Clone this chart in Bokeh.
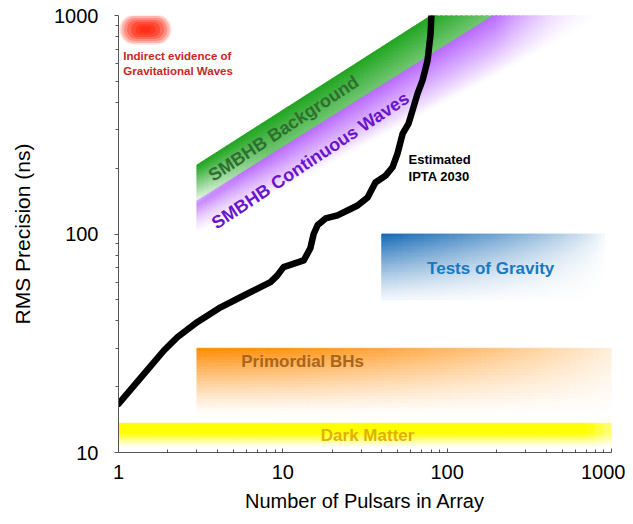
import numpy as np
from bokeh.plotting import figure
from bokeh.models import FixedTicker, Range1d, Label, PrintfTickFormatter
from bokeh.embed import file_html
from bokeh.resources import INLINE

# ---------------- data ----------------
# Estimated IPTA 2030 sensitivity curve
ipta_npsr = [1.0, 1.43, 1.89, 2.28, 3.01, 4.18, 5.79, 8.41, 9.24, 10.1, 13.4, 14.7,
             15.4, 16.3, 18.2, 21.5, 28.5, 32.8, 36.6, 42.2, 46.5, 49.9, 53.6, 58.2,
             61.5, 66.1, 70.8, 76.0, 79.3, 80.4]
ipta_rms = [16.7, 22.9, 29.3, 33.7, 39.5, 46.2, 52.3, 60.2, 64.5, 70.5, 75.7, 86.0,
            100, 110, 117.8, 121.6, 135, 147, 172, 185, 202, 234, 288, 320,
            367, 440, 505, 623, 828, 1055]

# science regions (N pulsars extent, RMS extent)
dm_npsr = [1, 1000]
dm_rms = [10.8, 13.6]
pbh_npsr = [3, 1000]
pbh_rms = [14.0, 30.0]
grav_npsr = [40, 1000]
grav_rms = [50.0, 100.0]
# SMBHB bands: power-law edges rms = r0 * (npsr / n0) ** slope
bkg_npsr = [3, 200]
bkg_top = [207.0, 0.48]      # (rms at n0, slope)
bkg_bot = [143.0, 0.47]
cw_npsr = [3, 1000]
cw_top = [143.0, 0.47]
cw_bot = [100.0, 0.40]
# indirect GW evidence marker
gw_npsr = [1.46]
gw_rms = [863]

x_ticks = [1, 10, 100, 1000]
y_ticks = [10, 100, 1000]

FONT = "Liberation Sans"

p = figure(width=625, height=516, x_axis_type="log", y_axis_type="log",
           x_range=Range1d(1, 1000), y_range=Range1d(10, 1000),
           output_backend="svg", toolbar_location=None,
           min_border_left=118, min_border_right=14, min_border_top=15,
           min_border_bottom=64)
p.outline_line_color = None
p.xgrid.visible = False
p.ygrid.visible = False
p.background_fill_color = "white"


def blend(hex_color, a):
    a = max(0.0, min(1.0, a))
    rgb = [int(hex_color[i:i + 2], 16) for i in (1, 3, 5)]
    return "#%02x%02x%02x" % tuple(int(round(255 - a * (255 - c))) for c in rgb)


def gradient_region(x0, x1, top_fn, bot_fn, color, alpha_fn, nx=70, ny=24):
    lx = np.linspace(np.log10(x0), np.log10(x1), nx + 1)
    xs_l, ys_l, cols = [], [], []

    def yat(x, t):
        return 10 ** ((1 - t) * np.log10(top_fn(x)) + t * np.log10(bot_fn(x)))

    for i in range(nx):
        xa, xb = 10 ** lx[i], 10 ** lx[i + 1]
        u = (i + 0.5) / nx
        for j in range(ny):
            t0, t1 = j / ny, (j + 1) / ny
            xs_l.append([xa, xb, xb, xa])
            ys_l.append([yat(xa, t0), yat(xb, t0), yat(xb, t1), yat(xa, t1)])
            cols.append(blend(color, alpha_fn(u, (j + 0.5) / ny)))
    p.patches(xs_l, ys_l, fill_color=cols, line_color=cols, line_width=0.9)


def const(v):
    return lambda x: v


def power(par, n0):
    return lambda x: par[0] * (x / n0) ** par[1]


# Dark matter (yellow)
gradient_region(dm_npsr[0], dm_npsr[1], const(dm_rms[1]), const(dm_rms[0]), "#ffff00",
                lambda u, t: (1.0 if t < 0.45 else 1 - 0.88 * (t - 0.45) / 0.55)
                * (1.0 if u < 0.95 else 1 - 0.5 * (u - 0.95) / 0.05), nx=60, ny=14)

# Primordial BHs (orange)
gradient_region(pbh_npsr[0], pbh_npsr[1], const(pbh_rms[1]), const(pbh_rms[0]), "#ff8a00",
                lambda u, t: max(0, 1 - 1.05 * t) ** 1.3 * (1 - 0.85 * u ** 1.6))

# Tests of gravity (blue)
gradient_region(grav_npsr[0], grav_npsr[1], const(grav_rms[1]), const(grav_rms[0]), "#1268b4",
                lambda u, t: max(0, 1 - 0.92 * t) ** 1.2 * max(0, 1 - 1.02 * u) ** (0.7 + 0.6 * t))

# SMBHB continuous waves (purple)
gradient_region(cw_npsr[0], cw_npsr[1], power(cw_top, cw_npsr[0]), power(cw_bot, cw_npsr[0]),
                "#b055ff",
                lambda u, t: 0.9 * max(0, 1 - t) ** 0.9
                * (1.0 if u < 0.72 else max(0, 1 - (u - 0.72) / 0.26))
                * (1 - 0.6 * max(0, 1 - u * 5) * t)
                * (1 - 0.5 * max(0, 1 - u * 8) * max(0, 1 - t * 6)), nx=90, ny=24)

# SMBHB background (green)
gradient_region(bkg_npsr[0], bkg_npsr[1], power(bkg_top, bkg_npsr[0]), power(bkg_bot, bkg_npsr[0]),
                "#18a218",
                lambda u, t: (0.97 - 0.35 * t) * (1 - 0.8 * max(0, 1 - u * 4) * t ** 1.5),
                nx=60, ny=12)

# Red blob: indirect evidence of gravitational waves
for w, h, a in [(52, 30, 0.16), (48, 27, 0.22), (43, 23, 0.28), (37, 19, 0.35),
                (29, 15, 0.45), (20, 10, 0.55), (11, 6, 0.65)]:
    p.rect(x=gw_npsr, y=gw_rms, width=w, height=h, width_units="screen",
           height_units="screen", border_radius=h // 2, fill_color="#ff2a10",
           fill_alpha=a, line_color=None)

# IPTA curve
p.line(ipta_npsr, ipta_rms, line_color="black", line_width=6.5,
       line_join="round", line_cap="round")


# ---------------- labels ----------------
def lab(x, y, text, color, size, angle=0.0, align="center"):
    p.add_layout(Label(x=x, y=y, text=text, text_color=color, text_font=FONT,
                       text_font_size=size, text_font_style="bold", angle=angle,
                       text_align=align, text_baseline="middle"))


lab(1.07, 656, "Indirect evidence of", "#c8281e", "11.5px", align="left")
lab(1.07, 555, "Gravitational Waves", "#c8281e", "11.5px", align="left")
lab(10.1, 304, "SMBHB Background", "#2f6f2f", "18px", angle=0.585)
lab(14.7, 217, "SMBHB Continuous Waves", "#6a14cc", "18px", angle=0.585)
lab(58.2, 219, "Estimated", "black", "13px", align="left")
lab(58.2, 183, "IPTA 2030", "black", "13px", align="left")
lab(184, 69.5, "Tests of Gravity", "#1a78c0", "17px")
lab(13.2, 26.1, "Primordial BHs", "#a8651c", "17px")
lab(32.8, 11.96, "Dark Matter", "#e2b000", "17px")

# ---------------- axes ----------------
minor_x = [m * d for d in (1, 10, 100) for m in range(2, 10)]
minor_y = [m * d for d in (10, 100) for m in range(2, 10)]
p.xaxis.ticker = FixedTicker(ticks=x_ticks, minor_ticks=minor_x)
p.yaxis.ticker = FixedTicker(ticks=y_ticks, minor_ticks=minor_y)
p.xaxis.formatter = PrintfTickFormatter(format="%d")
p.yaxis.formatter = PrintfTickFormatter(format="%d")

for ax in (p.xaxis[0], p.yaxis[0]):
    ax.axis_line_color = "#555555"
    ax.major_tick_line_color = "#555555"
    ax.minor_tick_line_color = "#555555"
    ax.major_label_text_font = FONT
    ax.major_label_text_font_size = "20px"
    ax.major_label_text_color = "black"
    ax.axis_label_text_font = FONT
    ax.axis_label_text_font_style = "normal"
    ax.axis_label_text_color = "black"

p.xaxis.axis_label = "Number of Pulsars in Array"
p.yaxis.axis_label = "RMS Precision (ns)"
p.xaxis.axis_label_text_font_size = "20px"
p.yaxis.axis_label_text_font_size = "21px"
p.xaxis.major_tick_in = 4
p.xaxis.major_tick_out = 0
p.xaxis.minor_tick_in = 3
p.xaxis.minor_tick_out = 0
p.xaxis.major_label_standoff = 12
p.xaxis.axis_label_standoff = 8
p.yaxis.major_tick_in = 0
p.yaxis.major_tick_out = 4
p.yaxis.minor_tick_in = 0
p.yaxis.minor_tick_out = 3
p.yaxis.major_label_standoff = 16
p.yaxis.axis_label_standoff = 17

open("out.html", "w").write(file_html(p, INLINE))
